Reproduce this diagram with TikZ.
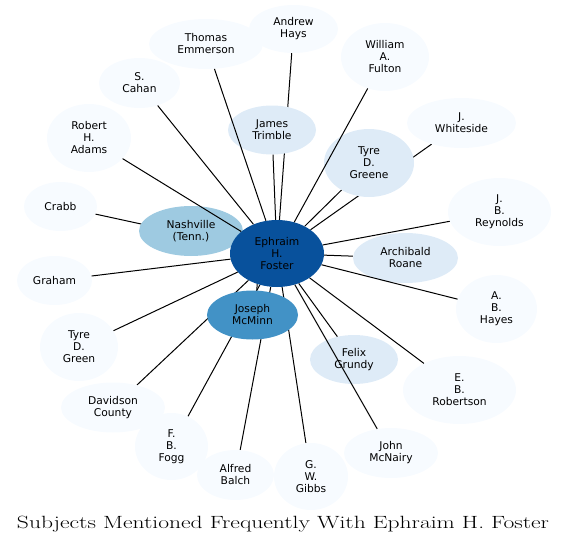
\documentclass[tikz,border=0pt]{standalone}
\usepackage{fontspec}
\newfontfamily\nodefont{DejaVu Sans}
\usetikzlibrary{shapes.geometric}
\pgfdeclarelayer{bg}
\pgfsetlayers{bg,main}
\definecolor{cFoster}{HTML}{08519C}
\definecolor{cNash}{HTML}{9ECAE1}
\definecolor{cMcMinn}{HTML}{4292C6}
\definecolor{cMid}{HTML}{DEEBF7}
\definecolor{cLight}{HTML}{F7FBFF}
\tikzset{
  ent/.style n args={3}{ellipse, fill=#3, draw=none, minimum width=#1, minimum height=#2,
    inner sep=0pt, align=center, text=black,
    font=\nodefont\fontsize{10.7}{12}\selectfont},
  link/.style={draw=black, line width=1pt}
}
\begin{document}
\begin{tikzpicture}[x=1pt,y=-1pt]
\useasboundingbox (0,0) rectangle (568,546);
% nodes
\node[ent={104pt}{50pt}{cNash}] (nashville) at (191,231) {Nashville\\(Tenn.)};
\node[ent={94pt}{67pt}{cFoster}] (foster) at (277,253.5) {Ephraim\\H.\\Foster};
\node[ent={91pt}{49pt}{cMcMinn}] (mcminn) at (252.5,315) {Joseph\\McMinn};
\node[ent={88pt}{49pt}{cMid}] (trimble) at (272,130) {James\\Trimble};
\node[ent={90pt}{68pt}{cMid}] (greene) at (369,163) {Tyre\\D.\\Greene};
\node[ent={105pt}{50pt}{cMid}] (roane) at (405.5,258) {Archibald\\Roane};
\node[ent={88pt}{49pt}{cMid}] (grundy) at (354,359.5) {Felix\\Grundy};
\node[ent={114pt}{50pt}{cLight}] (emmerson) at (206,44) {Thomas\\Emmerson};
\node[ent={81pt}{50pt}{cLight}] (cahan) at (139.5,83) {S.\\Cahan};
\node[ent={84pt}{68pt}{cLight}] (adams) at (89,138) {Robert\\H.\\Adams};
\node[ent={73pt}{49pt}{cLight}] (crabb) at (60.5,206.5) {Crabb};
\node[ent={89pt}{48pt}{cLight}] (hays) at (293.5,29) {Andrew\\Hays};
\node[ent={88pt}{68pt}{cLight}] (fulton) at (385,57) {William\\A.\\Fulton};
\node[ent={109pt}{50pt}{cLight}] (whiteside) at (461.5,123) {J.\\Whiteside};
\node[ent={103pt}{68pt}{cLight}] (reynolds) at (499.5,212) {J.\\B.\\Reynolds};
\node[ent={75pt}{49pt}{cLight}] (graham) at (54.5,280.5) {Graham};
\node[ent={78pt}{68pt}{cLight}] (green) at (79,347) {Tyre\\D.\\Green};
\node[ent={104pt}{50pt}{cLight}] (davidson) at (113,407.5) {Davidson\\County};
\node[ent={73pt}{67pt}{cLight}] (fogg) at (171.5,446.5) {F.\\B.\\Fogg};
\node[ent={77pt}{50pt}{cLight}] (balch) at (235.5,475) {Alfred\\Balch};
\node[ent={74pt}{67pt}{cLight}] (gibbs) at (311,476.5) {G.\\W.\\Gibbs};
\node[ent={94pt}{50pt}{cLight}] (mcnairy) at (391,453) {John\\McNairy};
\node[ent={113pt}{68pt}{cLight}] (robertson) at (459.5,390) {E.\\B.\\Robertson};
\node[ent={81pt}{68pt}{cLight}] (hayes) at (496.5,309) {A.\\B.\\Hayes};
% edges hidden under nodes
\begin{pgfonlayer}{bg}
\draw[link] (foster) -- (crabb);
\draw[link] (foster) -- (hays);
\draw[link] (foster) -- (whiteside);
\draw[link] (foster) -- (davidson);
\draw[link] (foster) -- (fogg);
\draw[link] (foster) -- (balch);
\draw[link] (foster) -- (gibbs);
\end{pgfonlayer}
% edges on top
\draw[link] (foster.-123) -- (mcminn.80);
\draw[link] (foster) -- (trimble);
\draw[link] (foster) -- (greene);
\draw[link] (foster) -- (roane);
\draw[link] (foster) -- (grundy);
\draw[link] (foster) -- (emmerson);
\draw[link] (foster) -- (cahan);
\draw[link] (foster) -- (adams);
\draw[link] (foster) -- (fulton);
\draw[link] (foster) -- (reynolds);
\draw[link] (foster) -- (graham);
\draw[link] (foster) -- (green);
\draw[link] (foster) -- (mcnairy);
\draw[link] (foster) -- (robertson);
\draw[link] (foster) -- (hayes);
% title
\node[anchor=base, inner sep=0pt, font=\fontsize{17.7}{20}\selectfont] (title) at (283,528.5)
  {\resizebox{532pt}{\height}{Subjects Mentioned Frequently With Ephraim H. Foster}};
\end{tikzpicture}
\end{document}
